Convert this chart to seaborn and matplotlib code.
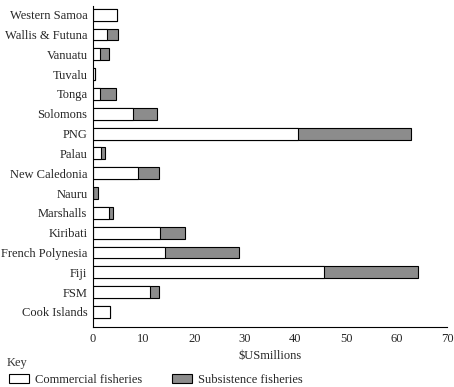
import pandas as pd
import matplotlib
matplotlib.use('Agg')
import matplotlib.pyplot as plt
import matplotlib.patches as mpatches
import seaborn as sns

countries = ['Western Samoa', 'Wallis & Futuna', 'Vanuatu', 'Tuvalu', 'Tonga',
             'Solomons', 'PNG', 'Palau', 'New Caledonia', 'Nauru', 'Marshalls',
             'Kiribati', 'French Polynesia', 'Fiji', 'FSM', 'Cook Islands']
commercial = [4.7, 2.8, 1.4, 0.4, 1.4, 7.9, 40.5, 1.6, 8.9, 0.0, 3.2,
              13.2, 14.3, 45.7, 11.3, 3.4]
subsistence = [0.0, 2.1, 1.8, 0.0, 3.1, 4.7, 22.3, 0.8, 4.1, 0.9, 0.8,
               5.0, 14.5, 18.5, 1.7, 0.0]

df = pd.DataFrame({'country': countries, 'commercial': commercial,
                   'subsistence': subsistence})
df['total'] = df['commercial'] + df['subsistence']

sns.set_style('white')
plt.rcParams['font.family'] = ['Liberation Serif', 'DejaVu Serif']

grey = '#8c8c8c'
fig = plt.figure(figsize=(4.54, 3.87), dpi=100)
ax = fig.add_axes([0.205, 0.155, 0.78, 0.83])

# stacked bars: total in grey, then commercial part in white on top
sns.barplot(data=df, x='total', y='country', order=countries, color=grey,
            edgecolor='black', linewidth=0.8, width=0.6, saturation=1, ax=ax)
sns.barplot(data=df, x='commercial', y='country', order=countries, color='white',
            edgecolor='black', linewidth=0.8, width=0.6, saturation=1, ax=ax)

ax.set_xlim(0, 70)
ax.set_ylim(15.76, -0.45)
ax.set_xticks(range(0, 71, 10))
ax.tick_params(axis='x', direction='in', length=3, width=0.8, labelsize=9, pad=4)
ax.tick_params(axis='y', length=0, labelsize=9, pad=4)
for side in ['top', 'right']:
    ax.spines[side].set_visible(False)
for side in ['left', 'bottom']:
    ax.spines[side].set_color('black')
    ax.spines[side].set_linewidth(0.8)
ax.set_ylabel('')
ax.set_xlabel('$USmillions', fontsize=9, labelpad=4)

fig.text(0.015, 0.055, 'Key', fontsize=9, color='#333333')
handles = [mpatches.Patch(facecolor='white', edgecolor='black', linewidth=0.8,
                          label='Commercial fisheries'),
           mpatches.Patch(facecolor=grey, edgecolor='black', linewidth=0.8,
                          label='Subsistence fisheries')]
fig.legend(handles=handles, loc='lower left', bbox_to_anchor=(0.018, 0.0),
           ncol=2, frameon=False, fontsize=9, columnspacing=2.4,
           handlelength=1.6, handleheight=0.8, handletextpad=0.45,
           borderaxespad=0, borderpad=0.1)

plt.savefig('out.png', dpi=100)
plt.close()
